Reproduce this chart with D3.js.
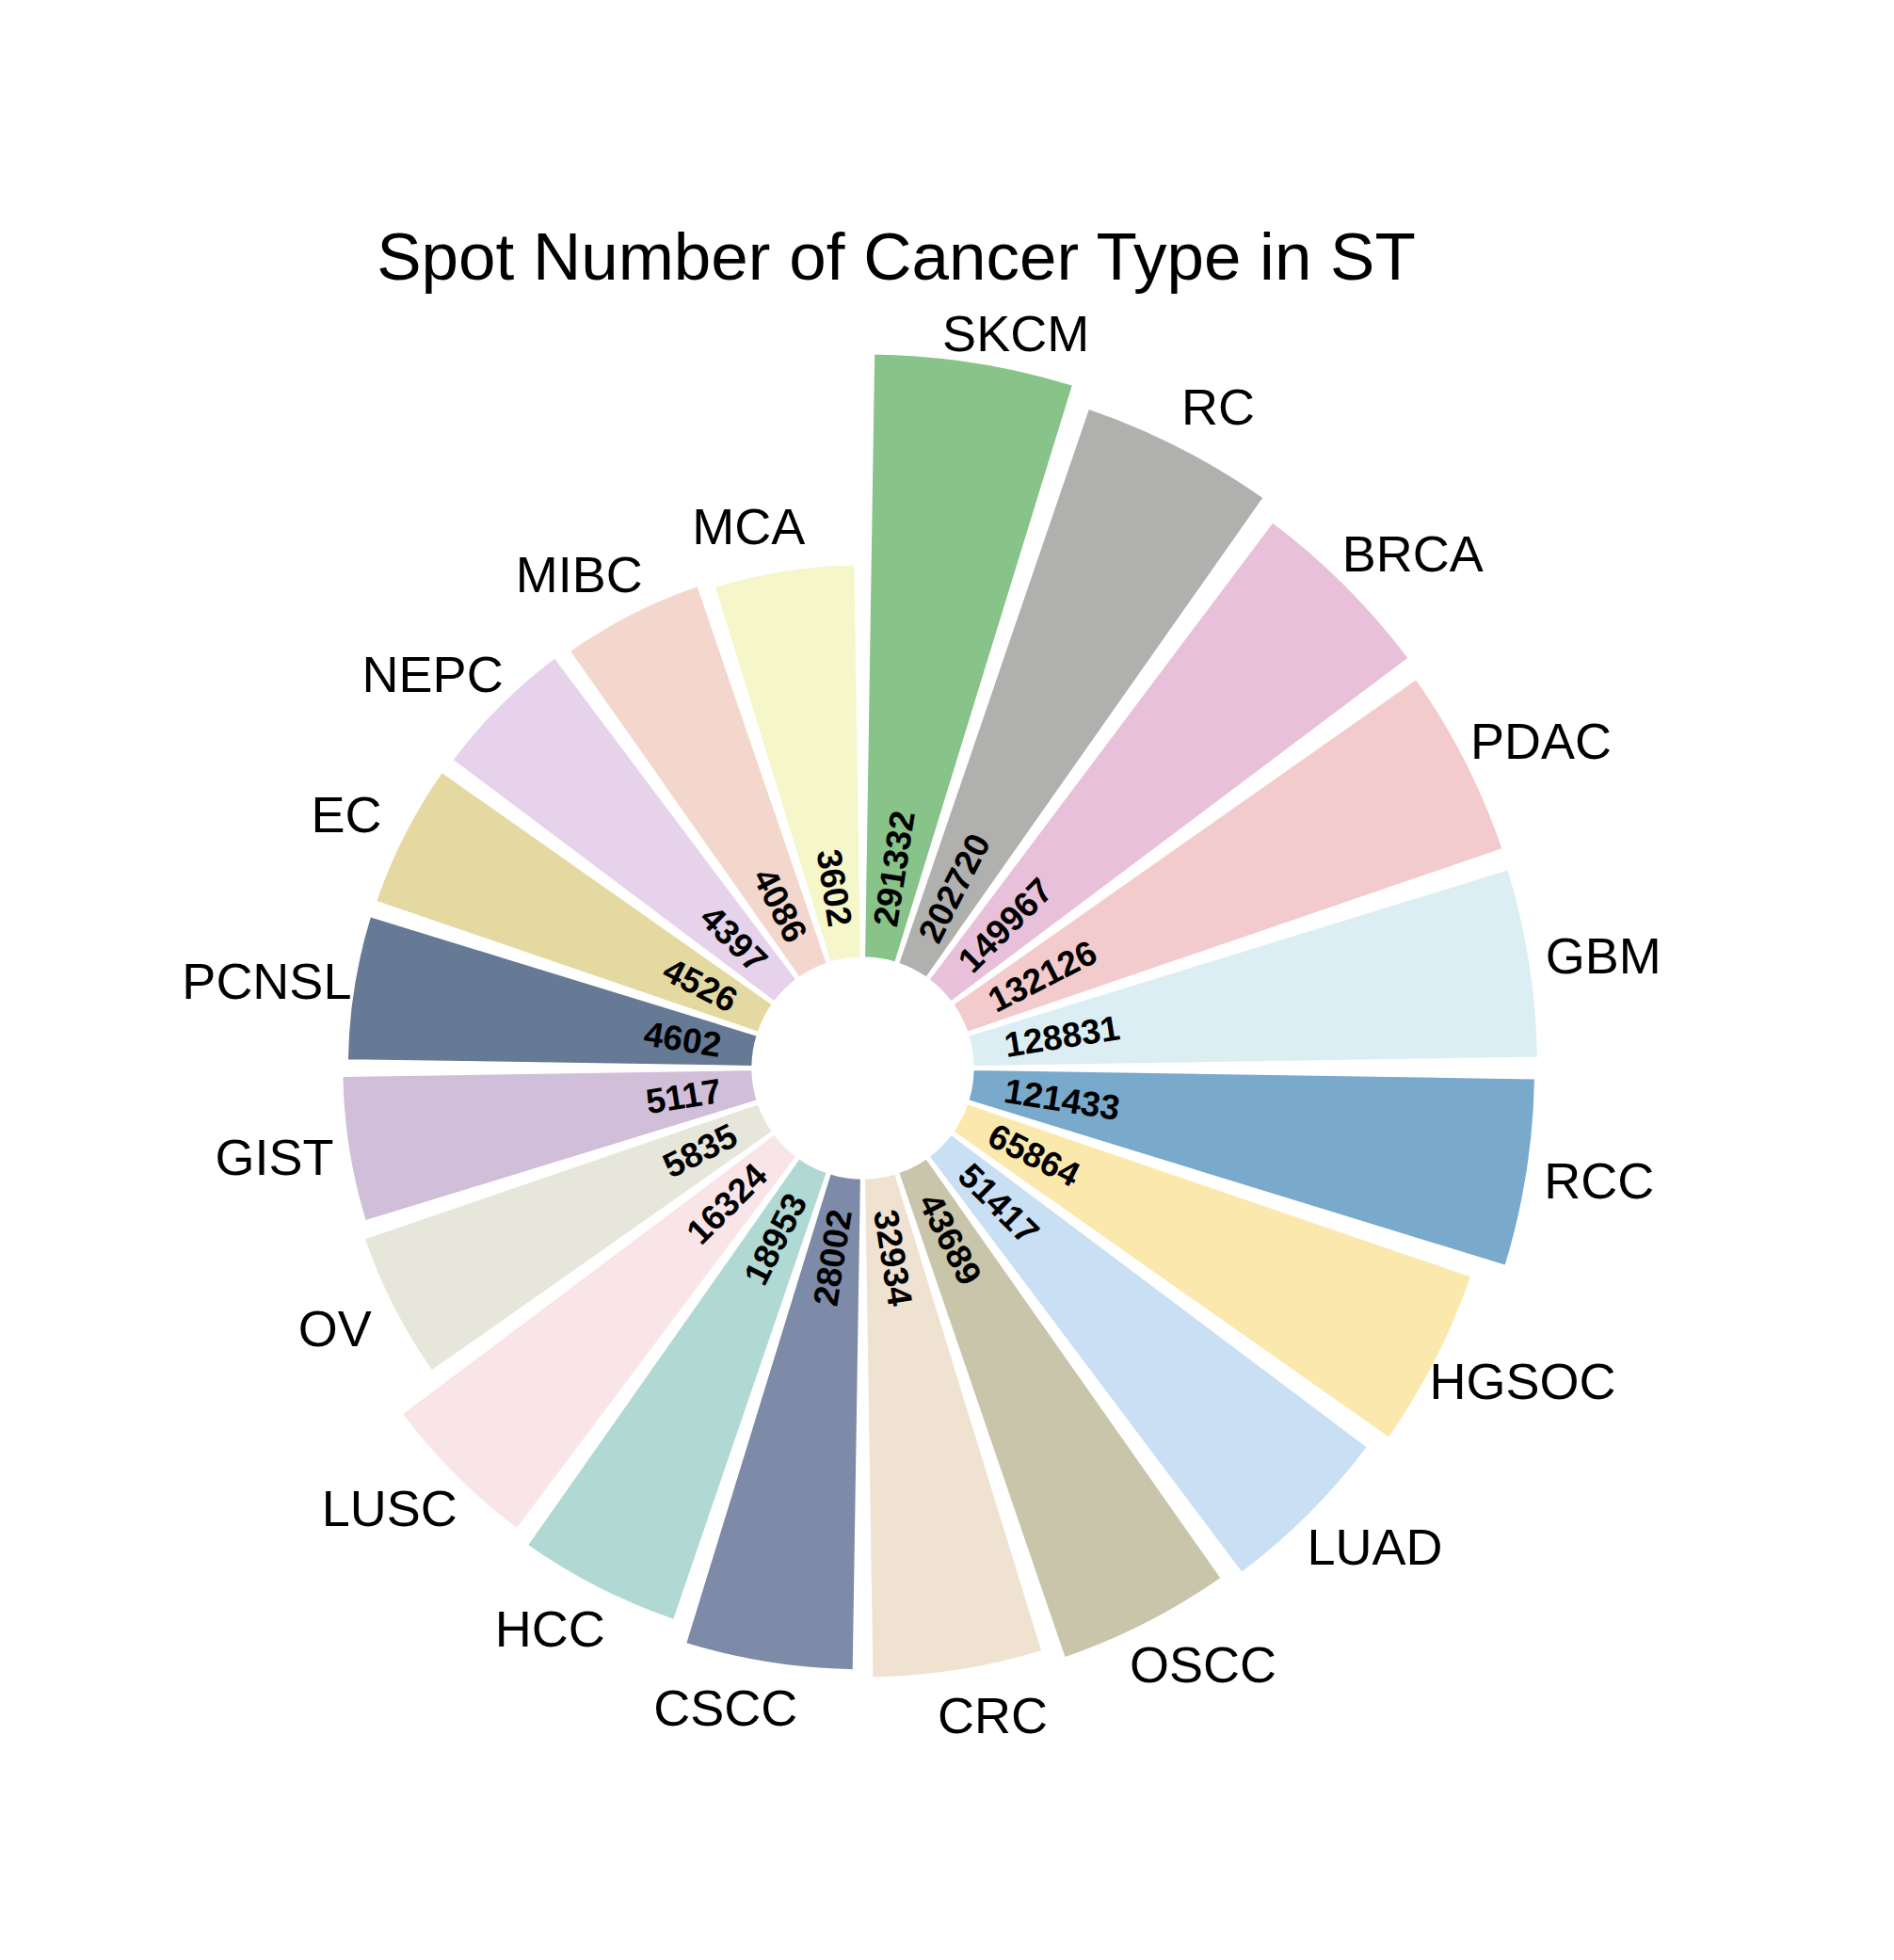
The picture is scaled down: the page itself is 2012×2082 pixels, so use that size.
<!DOCTYPE html>
<html><head><meta charset="utf-8">
<script src="https://cdn.jsdelivr.net/npm/d3@7"></script>
<style>body{margin:0;background:#fff} svg{display:block;font-family:"Liberation Sans",Arial,sans-serif}</style>
</head><body>
<svg id="chart" width="2012" height="2082"></svg>
<script>
const categories = ["SKCM","RC","BRCA","PDAC","GBM","RCC","HGSOC","LUAD","OSCC","CRC","CSCC","HCC","LUSC","OV","GIST","PCNSL","EC","NEPC","MIBC","MCA"];
const spotCounts = [291332,202720,149967,132126,128831,121433,65864,51417,43689,32934,28002,18953,16324,5835,5117,4602,4526,4397,4086,3602];
const barColors = ["#88c389","#b0b0ae","#e9c0d9","#f3cbcc","#dbeef4","#79a9cb","#fbe8ad","#c9dff4","#c9c5ab","#efe2d1","#7e8ba8","#b0d9d4","#f9e4e7","#e6e7da","#d1bfda","#677a95","#e3d9a1","#e6d3eb","#f3d7cd","#f5f6ca"];
const chartTitle = "Spot Number of Cancer Type in ST";

const W = 2012, H = 2082, cx = 916.5, cy = 1134.5;
const unit = 117.4;
const svg = d3.select("#chart");
svg.append("rect").attr("width", W).attr("height", H).attr("fill", "#fff");

const data = categories.map((c, i) => ({cat: c, value: spotCounts[i], color: barColors[i], logv: Math.log10(spotCounts[i])}));

const x = d3.scaleBand().domain(categories).range([0, 2 * Math.PI]).paddingInner(0.1).paddingOuter(0.05);
const y = d3.scaleLinear().domain([-1, 6]).range([0, unit * 7]);
const mid = d => x(d.cat) + x.bandwidth() / 2;

const g = svg.append("g").attr("transform", `translate(${cx},${cy})`);

const arc = d3.arc()
  .innerRadius(y(0))
  .outerRadius(d => y(d.logv))
  .startAngle(d => x(d.cat))
  .endAngle(d => x(d.cat) + x.bandwidth());

g.selectAll("path.bar").data(data).join("path")
  .attr("class", "bar")
  .attr("d", arc)
  .attr("fill", d => d.color)
  .attr("stroke", "#fff")
  .attr("stroke-width", 1.5);

// value labels
const rVal = y(0.3);
g.selectAll("text.val").data(data).join("text")
  .attr("class", "val")
  .attr("transform", d => {
    const a = mid(d), deg = a * 180 / Math.PI;
    const px = rVal * Math.sin(a), py = -rVal * Math.cos(a);
    const rot = deg < 180 ? deg - 90 : deg + 90;
    return `translate(${px},${py}) rotate(${rot})`;
  })
  .attr("text-anchor", d => (mid(d) * 180 / Math.PI) < 180 ? "start" : "end")
  .attr("dominant-baseline", "central")
  .style("font-weight", "bold")
  .style("font-size", "37px")
  .attr("fill", "#000")
  .text(d => d.value);

// category labels (kept inside the panel, below the title)
const labelGap = 48, hShift = 0.25;
const panelTop = 354 - cy; // minimum label centre y, relative to the polar centre
g.selectAll("text.cat").data(data).join("text")
  .attr("class", "cat")
  .attr("text-anchor", "middle")
  .attr("dy", "0.36em")
  .style("font-size", "54px")
  .attr("fill", "#000")
  .text(d => d.cat)
  .each(function(d) {
    const a = mid(d);
    const w = this.getComputedTextLength();
    const r = y(d.logv) + labelGap;
    const sx = Math.sign(Math.sin(a)) * hShift * w;
    let ly = -r * Math.cos(a);
    let lx = r * Math.sin(a) + sx;
    if (ly < panelTop) { lx = lx * (panelTop / ly) + sx * (1 - panelTop / ly); ly = panelTop; }
    d3.select(this).attr("x", lx).attr("y", ly);
  });

svg.append("text")
  .attr("x", 952).attr("y", 297)
  .attr("text-anchor", "middle")
  .style("font-size", "71px")
  .attr("fill", "#000")
  .text(chartTitle);
</script>
</body></html>
